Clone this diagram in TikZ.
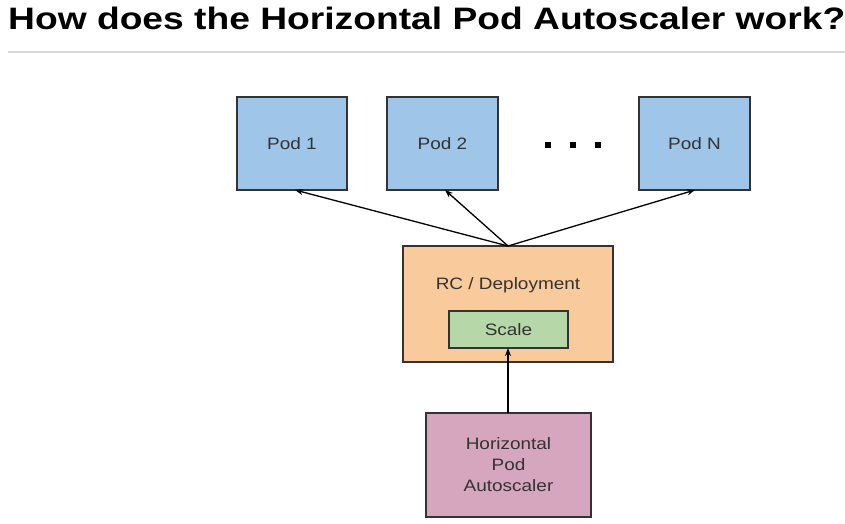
\documentclass[tikz,border=0pt]{standalone}
\usepackage{fontspec}
\setmainfont{Liberation Sans}
\usepackage{graphicx}
\usetikzlibrary{arrows.meta}
\definecolor{podblue}{HTML}{9FC5E8}
\definecolor{rcorange}{HTML}{F9CB9C}
\definecolor{scalegreen}{HTML}{B6D7A8}
\definecolor{hpapink}{HTML}{D5A6BD}
\definecolor{edgegray}{HTML}{333333}
\definecolor{txtgray}{HTML}{333333}
\definecolor{rulegray}{HTML}{D9D9D9}
\newcommand{\boxtxt}[1]{\scalebox{1.15}[1]{#1}}
\begin{document}
\begin{tikzpicture}[x=1pt,y=-1pt,
  boxstyle/.style={draw=edgegray,line width=1.2pt},
  lbl/.style={text=txtgray,font=\fontsize{16.5}{21}\selectfont,align=center,inner sep=0pt},
  arr/.style={-{Stealth[length=8pt,width=6pt]},line width=1.3pt,draw=black}]
\useasboundingbox (0,0) rectangle (845,524);
\fill[white] (0,0) rectangle (845,524);
% title
\node[anchor=base west,inner sep=0pt] (title) at (8,30)
  {\scalebox{1.2}[1]{\fontsize{31}{31}\selectfont\bfseries How does the Horizontal Pod Autoscaler work?}};
\draw[rulegray,line width=2pt] (8,52) -- (845,52);
% pods
\draw[boxstyle,fill=podblue] (237,97) rectangle (347,190);
\draw[boxstyle,fill=podblue] (387,97) rectangle (498,190);
\draw[boxstyle,fill=podblue] (639,97) rectangle (750,190);
\node[lbl] (pod1) at (292,143.5) {\boxtxt{Pod 1}};
\node[lbl] (pod2) at (442.5,143.5) {\boxtxt{Pod 2}};
\node[lbl] (podn) at (694.5,143.5) {\boxtxt{Pod N}};
\coordinate (p1b) at (295,190);
\coordinate (p2b) at (445,190);
\coordinate (pnb) at (695,190);
% dots
\foreach \dx in {548,573,598} \fill[black] (\dx-3,142) rectangle (\dx+3,148);
% RC
\draw[boxstyle,fill=rcorange] (403,246) rectangle (613,362);
\node[lbl] (rc) at (508,285) {\boxtxt{RC / Deployment}};
\coordinate (rct) at (508,246);
\draw[boxstyle,fill=scalegreen] (449,311) rectangle (568,348);
\node[lbl] (scale) at (508.5,329.5) {\boxtxt{Scale}};
\coordinate (scb) at (508,348);
% HPA
\draw[boxstyle,fill=hpapink] (426,413) rectangle (591,517);
\node[lbl] (hpa) at (508.5,465) {\boxtxt{Horizontal}\\\boxtxt{Pod}\\\boxtxt{Autoscaler}};
\coordinate (hpat) at (508,413);
% arrows
\draw[arr] (rct) -- (p1b);
\draw[arr] (rct) -- (p2b);
\draw[arr] (rct) -- (pnb);
\draw[arr] (hpat) -- (scb);
\end{tikzpicture}
\end{document}
